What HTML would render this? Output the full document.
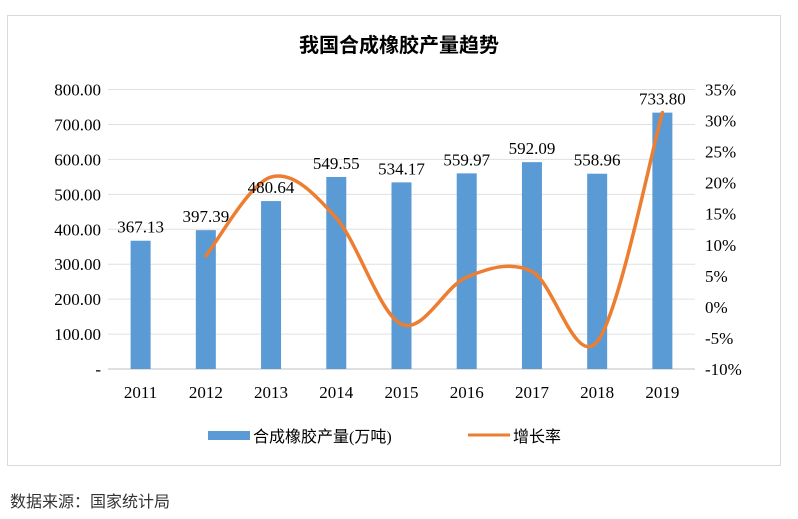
<!DOCTYPE html>
<html><head><meta charset="utf-8"><style>
body{margin:0;background:#fff;width:798px;height:519px;overflow:hidden;font-family:"Liberation Serif","Noto Serif CJK SC",serif;}
svg{position:absolute;left:0;top:0}
</style></head><body>
<svg width="798" height="519" font-family="'Liberation Serif','Noto Serif CJK SC',serif">
<rect x="7.5" y="15.5" width="773" height="450" fill="#fff" stroke="#d9d9d9"/>
<text x="399" y="52" text-anchor="middle" font-size="20" font-weight="bold" font-family="'Liberation Sans','Noto Sans CJK SC',sans-serif">我国合成橡胶产量趋势</text>
<g id="grid"></g><g id="bars"></g><g id="line"></g><g id="labels"></g>
<g>
<rect x="208" y="431" width="42" height="9" fill="#5b9bd5"/>
<text x="253" y="442" font-size="16" font-family="'Liberation Serif','Noto Sans CJK SC',serif">合成橡胶产量(万吨)</text>
<line x1="468" y1="435" x2="510" y2="435" stroke="#ed7d31" stroke-width="3"/>
<text x="513" y="442" font-size="16" font-family="'Liberation Serif','Noto Sans CJK SC',serif">增长率</text>
</g>
<text x="10" y="507" font-size="16" font-family="'Liberation Serif','Noto Sans CJK SC',serif" fill="#333">数据来源：国家统计局</text>
</svg>
<script>
const years=["2011","2012","2013","2014","2015","2016","2017","2018","2019"];
const production=[367.13,397.39,480.64,549.55,534.17,559.97,592.09,558.96,733.80];
const growth=[null,8.2,20.9,14.3,-2.8,4.8,5.7,-5.6,31.3];
const leftTicks=[0,100,200,300,400,500,600,700,800];
const rightTicks=[-10,-5,0,5,10,15,20,25,30,35];
const NS="http://www.w3.org/2000/svg";
const x0=108,x1=695,yBase=369,yTop=89.5;
const yL=v=>yBase-(v/800)*(yBase-yTop);
const yR=v=>yBase-((v+10)/45)*(yBase-yTop);
const step=(x1-x0)/years.length;
const xC=i=>x0+step*(i+0.5);
function mk(t,a,p){const e=document.createElementNS(NS,t);for(const k in a)e.setAttribute(k,a[k]);p.appendChild(e);return e;}
const grid=document.getElementById('grid');
leftTicks.forEach(v=>{
 const l=mk('line',{x1:x0,x2:x1,y1:yL(v),y2:yL(v),stroke:v===0?'#bfbfbf':'#e0e0e0','stroke-width':1},grid);
 
 
 const t=mk('text',{x:101,y:yL(v)+6,'text-anchor':'end','font-size':17},grid);
 t.textContent=v===0?'-':v.toFixed(2);
 
 
});
rightTicks.forEach(v=>{
 const t=mk('text',{x:705,y:yR(v)+6,'font-size':17},grid);
 t.textContent=v+'%';
 
 
});
const bars=document.getElementById('bars'),labels=document.getElementById('labels');
years.forEach((y,i)=>{
 const r=mk('rect',{x:xC(i)-10,y:yL(production[i]),width:20,height:yBase-yL(production[i]),fill:'#5b9bd5'},bars);
 
 
 const t=mk('text',{x:xC(i),y:yL(production[i])-8,'text-anchor':'middle','font-size':17},labels);
 t.textContent=production[i].toFixed(2);
 
 
 const c=mk('text',{x:xC(i),y:398,'text-anchor':'middle','font-size':17},labels);
 c.textContent=y;
 
 
});
const pts=[];growth.forEach((g,i)=>{if(g!==null)pts.push([xC(i),yR(g)]);});
let d='M'+pts[0][0]+','+pts[0][1];
for(let i=0;i<pts.length-1;i++){
 const p0=pts[i-1]||pts[i],p1=pts[i],p2=pts[i+1],p3=pts[i+2]||p2;
 const c1=[p1[0]+(p2[0]-p0[0])/6,p1[1]+(p2[1]-p0[1])/6];
 const c2=[p2[0]-(p3[0]-p1[0])/6,p2[1]-(p3[1]-p1[1])/6];
 d+=` C${c1[0]},${c1[1]} ${c2[0]},${c2[1]} ${p2[0]},${p2[1]}`;
}
const ln=mk('path',{d:d,fill:'none',stroke:'#ed7d31','stroke-width':3.5,'stroke-linecap':'round'},document.getElementById('line'));


</script>
</body></html>
